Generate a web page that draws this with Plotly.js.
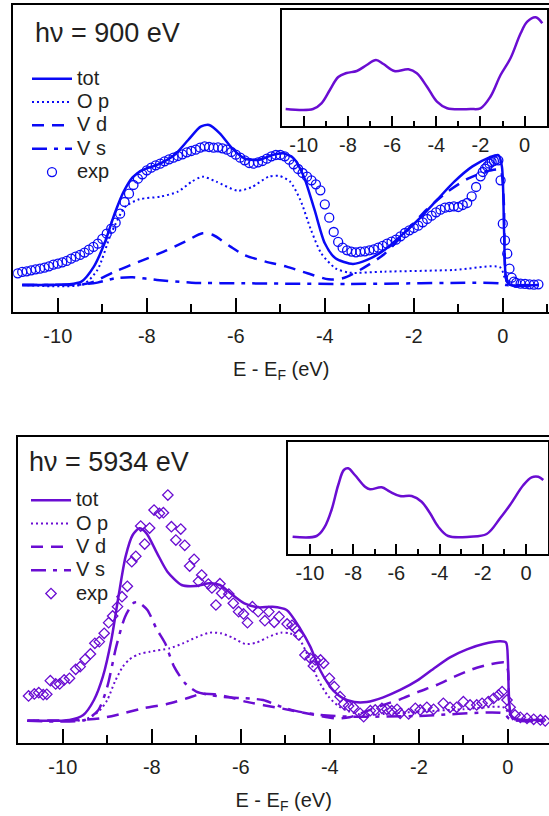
<!DOCTYPE html>
<html><head><meta charset="utf-8">
<script src="https://cdn.plot.ly/plotly-3.0.1.min.js"></script>
<style>html,body{margin:0;padding:0;background:#fff}</style>
</head><body><div id="chart" style="width:549px;height:816px"></div>
<script>
// ---------- top panel (hv = 900 eV) ----------
const topTotX = [-10.8,-9.74,-9.47,-9.19,-8.95,-8.72,-8.52,-8.32,-8.09,-7.77,-7.38,-7.07,-6.79,-6.6,-6.36,-6.08,-5.81,-5.49,-5.18,-4.94,-4.7,-4.47,-4.23,-4.0,-3.76,-3.37,-3.05,-2.66,-2.27,-1.87,-1.48,-1.09,-0.69,-0.3,-0.1,-0.02,0.03,0.08,0.17,0.8];
const topTotY = [82,84,92,137,207,297,362,405,427,442,472,517,557,562,537,492,462,457,472,477,462,407,307,207,162,145,157,187,232,282,337,392,437,465,472,437,237,97,82,82];
const topOpX = [-10.8,-9.43,-9.11,-8.8,-8.48,-8.17,-7.69,-7.3,-6.99,-6.75,-6.44,-5.96,-5.65,-5.26,-5.02,-4.78,-4.55,-4.31,-4.08,-3.76,-3.45,-2.66,-1.09,-0.06,0.06,0.17,0.8];
const topOpY = [82,84,127,237,317,339,347,362,392,407,392,365,375,407,409,392,337,247,177,132,119,122,127,135,97,82,82];
const topVdX = [-10.8,-9.43,-9.19,-8.72,-8.17,-7.62,-7.14,-6.75,-6.51,-6.12,-5.81,-5.33,-4.86,-4.39,-3.92,-3.6,-3.21,-2.66,-2.19,-1.72,-1.24,-0.77,-0.3,-0.06,0.02,0.08,0.17,0.8];
const topVdY = [82,84,92,122,152,182,212,237,232,197,172,152,137,117,99,102,127,175,240,307,362,402,425,427,337,97,82,82];
const topVsX = [-10.8,-9.43,-9.11,-8.72,-8.32,-7.77,-6.99,-5.81,-3.45,-0.06,0.08,0.8];
const topVsY = [82,84,89,102,105,97,89,87,85,87,82,82];
const topExpX = [-10.9,-10.8,-10.7,-10.6,-10.5,-10.4,-10.3,-10.2,-10.1,-10.0,-9.9,-9.8,-9.7,-9.6,-9.5,-9.4,-9.3,-9.2,-9.1,-9.0,-8.9,-8.8,-8.7,-8.6,-8.5,-8.4,-8.3,-8.2,-8.1,-8.0,-7.9,-7.8,-7.7,-7.6,-7.5,-7.4,-7.3,-7.2,-7.1,-7.0,-6.9,-6.8,-6.7,-6.6,-6.5,-6.4,-6.3,-6.2,-6.1,-6.0,-5.9,-5.8,-5.7,-5.6,-5.5,-5.4,-5.3,-5.2,-5.1,-5.0,-4.9,-4.8,-4.7,-4.6,-4.5,-4.4,-4.3,-4.2,-4.1,-4.0,-3.9,-3.8,-3.7,-3.6,-3.5,-3.4,-3.3,-3.2,-3.1,-3.0,-2.9,-2.8,-2.7,-2.6,-2.5,-2.4,-2.3,-2.2,-2.1,-2.0,-1.9,-1.8,-1.7,-1.6,-1.5,-1.4,-1.3,-1.2,-1.1,-1.0,-0.9,-0.8,-0.7,-0.6,-0.5,-0.45,-0.4,-0.35,-0.3,-0.25,-0.2,-0.15,-0.1,-0.05,0.0,0.05,0.1,0.15,0.2,0.25,0.3,0.4,0.5,0.6,0.7,0.8];
const topExpY = [117,121,123,126,129,131,134,138,143,146,150,154,161,167,172,179,188,196,206,220,236,251,269,296,331,356,382,401,414,426,434,441,446,453,459,464,469,474,480,484,488,494,498,496,494,495,492,488,481,473,464,456,448,446,450,454,461,468,472,472,468,458,444,430,418,407,396,384,366,324,284,241,211,194,186,182,180,182,183,186,189,194,199,206,212,218,228,238,246,253,260,270,280,290,300,308,314,316,318,316,322,328,348,376,408,421,431,438,446,451,454,458,456,396,266,216,176,131,104,92,88,86,85,84,83,84];
const topInsetX = [-10.82,-9.58,-9.2,-8.82,-8.44,-8.06,-7.6,-7.15,-6.73,-6.39,-5.9,-5.26,-4.88,-4.42,-3.97,-3.51,-2.45,-2.0,-1.55,-1.09,-0.64,-0.18,0.12,0.5,0.8];
const topInsetY = [17,17,22.7,36,49,53,55,61,66,62,55,56.7,52.7,39.3,24.3,17.7,17,17.7,29.3,51,67.7,92.7,104.3,108.7,102.7];

// ---------- bottom panel (hv = 5934 eV) ----------
const botTotX = [-10.79,-9.85,-9.54,-9.3,-9.1,-8.91,-8.75,-8.59,-8.43,-8.28,-8.12,-7.88,-7.65,-7.33,-7.02,-6.7,-6.47,-6.23,-5.92,-5.6,-5.29,-4.97,-4.67,-4.44,-4.22,-3.92,-3.7,-3.45,-3.17,-2.8,-2.42,-2.04,-1.67,-1.3,-0.92,-0.55,-0.17,-0.04,0.0,0.03,0.08,0.2,0.8];
const botTotY = [68,70,85,130,200,310,440,560,625,645,630,570,515,475,472,480,475,450,420,408,410,400,345,290,220,158,135,124,124,138,160,188,224,258,282,298,306,302,250,120,82,72,70];
const botOpX = [-10.79,-9.54,-9.3,-9.16,-9.0,-8.83,-8.65,-8.5,-8.28,-8.04,-7.6,-7.3,-7.0,-6.7,-6.45,-6.2,-5.9,-5.65,-5.4,-5.1,-4.9,-4.7,-4.5,-4.26,-4.03,-3.79,-3.56,-3.24,-2.8,-2.0,-1.0,-0.1,0.02,0.14,0.8];
const botOpY = [68,70,85,100,130,185,230,252,268,275,285,300,318,332,330,318,298,302,318,332,330,315,265,190,140,110,95,85,88,95,102,108,90,70,68];
const botVdX = [-10.8,-9.6,-9.16,-8.79,-8.19,-7.66,-7.21,-6.9,-6.6,-6.3,-5.9,-5.1,-4.34,-3.87,-3.56,-3.2,-2.8,-2.42,-2.0,-1.6,-1.2,-0.8,-0.4,-0.06,0.0,0.05,0.14,0.8];
const botVdY = [68,70,75,85,105,118,135,148,147,140,125,105,85,75,78,95,115,132,155,175,200,222,237,242,220,90,70,68];
const botVsX = [-10.8,-9.5,-9.2,-9.0,-8.8,-8.6,-8.4,-8.3,-8.1,-7.9,-7.7,-7.5,-7.25,-7.0,-6.7,-6.3,-5.9,-5.5,-5.1,-4.7,-4.2,-3.6,-2.0,-0.1,0.02,0.14,0.8];
const botVsY = [68,70,100,170,290,380,422,423,400,345,300,230,180,155,145,138,135,130,110,95,85,80,82,90,75,70,68];
const botExpX = [-10.77,-10.64,-10.54,-10.44,-10.36,-10.28,-10.16,-10.07,-9.97,-9.85,-9.71,-9.61,-9.5,-9.38,-9.28,-9.18,-9.07,-8.97,-8.88,-8.77,-8.67,-8.55,-8.45,-8.36,-8.25,-8.16,-8.05,-7.95,-7.83,-7.74,-7.64,-7.56,-7.46,-7.35,-7.26,-7.15,-7.05,-6.95,-6.88,-6.73,-6.65,-6.56,-6.47,-6.43,-6.27,-6.17,-6.05,-5.94,-5.85,-5.74,-5.61,-5.46,-5.37,-5.25,-5.14,-4.96,-4.85,-4.78,-4.7,-4.56,-4.44,-4.37,-4.33,-4.21,-4.14,-4.01,-3.9,-3.77,-3.69,-3.58,-3.47,-3.32,-3.24,-3.09,-2.98,-2.83,-2.72,-2.61,-2.49,-2.42,-2.23,-2.08,-1.97,-1.82,-1.67,-1.45,-1.3,-1.15,-1.0,-0.85,-0.7,-0.58,-0.44,-0.32,-0.21,-0.13,-0.02,0.05,0.16,0.28,0.43,0.58,0.73,0.84];
const botExpY = [142,148,152,146,147,188,178,178,190,195,222,230,252,268,300,305,330,362,382,410,440,471,545,561,652,598,646,700,690,692,745,650,610,643,594,532,552,486,505,478,466,415,479,450,448,420,395,388,362,410,395,368,395,363,380,358,354,345,325,265,255,232,250,250,240,195,170,140,118,112,108,90,80,98,100,105,102,98,102,90,88,105,100,108,102,120,108,108,125,115,115,120,125,135,145,155,130,108,85,78,75,72,70,67];
const botInsetX = [-10.8,-9.69,-9.31,-9.0,-8.69,-8.43,-8.23,-7.92,-7.45,-7.22,-6.68,-6.3,-5.83,-5.29,-4.83,-4.44,-4.06,-3.6,-2.59,-1.82,-1.2,-0.74,-0.12,0.26,0.57,0.8];
const botInsetY = [17.3,18,27.3,44,69,84,85.7,79,67.3,64.7,66.7,62.3,58,58,52.3,40.7,27.3,18,17.3,20,35.7,49,69,76.7,77.3,74];

// ---------- shared labels ----------
const names = ['tot','O p','V d','V s','exp'];
const tickVals = [-10, -8, -6, -4, -2, 0];
const tickText = ['-10', '-8', '-6', '-4', '-2', '0'];
const xTitle = 'E - E<sub>F</sub> (eV)';
const topLabel = 'hν = 900 eV';
const botLabel = 'hν = 5934 eV';

const BLUE = '#0a0af5', PURPLE = '#6a0dd2', TXT = '#231f20';
const FONT = 'Liberation Sans, Arial, sans-serif';
const lbl = s => '<span style="font-size:20px">' + s + '</span>';

function modelTraces(xs, ys, color, xa, ya, leg) {
  const dashes = ['solid', '2px,3px', '12px,8px', '15px,7px,4px,7px'];
  const widths = [2.5, 2, 2.5, 2.5];
  return xs.map((x, i) => ({
    x: x, y: ys[i], type: 'scatter', mode: 'lines', name: lbl(names[i]),
    xaxis: xa, yaxis: ya, legend: leg,
    line: {color: color, width: widths[i], dash: dashes[i], shape: 'spline', smoothing: 0.7}
  }));
}

const traces = [
  ...modelTraces([topTotX, topOpX, topVdX, topVsX], [topTotY, topOpY, topVdY, topVsY], BLUE, 'x', 'y', 'legend'),
  {x: topExpX, y: topExpY, type: 'scatter', mode: 'markers', name: lbl(names[4]), xaxis: 'x', yaxis: 'y', legend: 'legend',
   marker: {symbol: 'circle-open', size: 9, color: BLUE, line: {width: 1.3, color: BLUE}}},
  {x: topInsetX, y: topInsetY, type: 'scatter', mode: 'lines', showlegend: false, xaxis: 'x2', yaxis: 'y2',
   line: {color: PURPLE, width: 2.5, shape: 'spline', smoothing: 1}},
  ...modelTraces([botTotX, botOpX, botVdX, botVsX], [botTotY, botOpY, botVdY, botVsY], PURPLE, 'x3', 'y3', 'legend2'),
  {x: botExpX, y: botExpY, type: 'scatter', mode: 'markers', name: lbl(names[4]), xaxis: 'x3', yaxis: 'y3', legend: 'legend2',
   marker: {symbol: 'diamond-open', size: 8, color: PURPLE, line: {width: 1.3, color: PURPLE}}},
  {x: botInsetX, y: botInsetY, type: 'scatter', mode: 'lines', showlegend: false, xaxis: 'x4', yaxis: 'y4',
   line: {color: PURPLE, width: 2.5, shape: 'spline', smoothing: 1}}
];

function xAx(domain, range, anchor, main) {
  const ax = {
    domain: domain, range: range, anchor: anchor, showline: true, linewidth: 2, linecolor: '#000', mirror: true,
    ticks: 'inside', ticklen: main ? 14 : 10, tickwidth: 2, tickcolor: '#000',
    tickmode: 'array', tickvals: tickVals, ticktext: tickText,
    minor: {tickmode: 'linear', dtick: 1, tick0: 0, ticks: 'inside', ticklen: main ? 8 : 5, tickwidth: 2, tickcolor: '#000', showgrid: false},
    showgrid: false, zeroline: false, fixedrange: true, ticklabelstandoff: main ? 5 : 0,
    tickfont: {family: FONT, size: 20, color: TXT}
  };
  if (main) ax.title = {text: xTitle, font: {family: FONT, size: 20, color: TXT}, standoff: 16};
  return ax;
}
function yAx(domain, range, anchor, mirror) {
  return {domain: domain, range: range, anchor: anchor, showline: true, linewidth: 2, linecolor: '#000', mirror: mirror,
    ticks: '', showticklabels: false, showgrid: false, zeroline: false, fixedrange: true};
}

const W = 549, H = 816;
const px = v => v / W, py = v => 1 - v / H;

const layout = {
  width: W, height: H, margin: {l: 0, r: 0, t: 0, b: 0}, paper_bgcolor: '#fff', plot_bgcolor: 'rgba(0,0,0,0)',
  showlegend: true, font: {family: FONT, color: TXT},
  xaxis: xAx([px(13.3), 1], [-11, 1.038], 'y', true),
  yaxis: yAx([py(312.3), py(5)], [0, 922], 'x', false),
  xaxis2: xAx([px(281.7), px(546.7)], [-11, 1], 'y2', false),
  yaxis2: yAx([py(126), py(10)], [0, 116], 'x2', true),
  xaxis3: xAx([px(18.3), 1], [-11, 0.924], 'y3', true),
  yaxis3: yAx([py(743.3), py(436.7)], [0, 920], 'x3', false),
  xaxis4: xAx([px(288.3), px(547.6)], [-11, 1], 'y4', false),
  yaxis4: yAx([py(554), py(441.7)], [0, 112.3], 'x4', true),
  legend: {x: px(27), y: py(62), xanchor: 'left', yanchor: 'top', bgcolor: 'rgba(0,0,0,0)', borderwidth: 0,
    font: {family: FONT, size: 15.65, color: TXT}, itemwidth: 40, tracegroupgap: 0},
  legend2: {x: px(26), y: py(483.5), xanchor: 'left', yanchor: 'top', bgcolor: 'rgba(0,0,0,0)', borderwidth: 0,
    font: {family: FONT, size: 15.65, color: TXT}, itemwidth: 40, tracegroupgap: 0},
  annotations: [
    {text: topLabel, xref: 'paper', yref: 'paper', x: px(33), y: py(33), xanchor: 'left', yanchor: 'middle',
     showarrow: false, font: {family: FONT, size: 27, color: TXT}},
    {text: botLabel, xref: 'paper', yref: 'paper', x: px(26.5), y: py(461.7), xanchor: 'left', yanchor: 'middle',
     showarrow: false, font: {family: FONT, size: 27, color: TXT}}
  ]
};

Plotly.newPlot('chart', traces, layout, {staticPlot: true, displayModeBar: false}).then(gd => {
  // drop empty placeholder <text> nodes that carry no content
  gd.querySelectorAll('text').forEach(t => { if (!t.textContent.trim()) t.remove(); });
});
</script></body></html>
